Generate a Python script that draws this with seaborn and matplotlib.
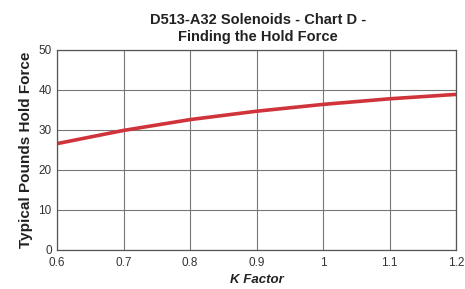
import numpy as np
import pandas as pd
import matplotlib
matplotlib.use("Agg")
import matplotlib.pyplot as plt
import seaborn as sns

# valeurs
k_factor = [0.6, 0.7, 0.8, 0.9, 1.0, 1.1, 1.2]
hold_force = [26.6, 29.9, 32.6, 34.7, 36.4, 37.8, 38.9]
x_ticks = [0.6, 0.7, 0.8, 0.9, 1.0, 1.1, 1.2]
x_labels = ["0.6", "0.7", "0.8", "0.9", "1", "1.1", "1.2"]
y_ticks = [0, 10, 20, 30, 40, 50]

df = pd.DataFrame({"k": k_factor, "force": hold_force})

sns.set_style("white")
plt.rcParams["font.family"] = ["Liberation Sans", "DejaVu Sans"]

fig = plt.figure(figsize=(4.65, 2.89), dpi=100)
ax = fig.add_axes([0.123, 0.135, 0.858, 0.692])

sns.lineplot(data=df, x="k", y="force", color="#d0343a", linewidth=2.6, ax=ax)

ax.set_xlim(0.6, 1.2)
ax.set_ylim(0, 50)
ax.set_xticks(x_ticks)
ax.set_xticklabels(x_labels, fontsize=8.5, color="#333333")
ax.set_yticks(y_ticks)
ax.set_yticklabels([str(v) for v in y_ticks], fontsize=8.5, color="#333333")
ax.tick_params(axis="x", length=2, pad=3, color="#555555")
ax.tick_params(axis="y", length=2, pad=2, color="#555555")
ax.grid(True, color="#777777", linewidth=0.8)
for s in ax.spines.values():
    s.set_color("#555555")
    s.set_linewidth(0.9)

ax.set_xlabel("K Factor", fontsize=9.5, fontweight="bold", fontstyle="italic",
              color="#222222", labelpad=4)
ax.set_ylabel("Typical Pounds Hold Force", fontsize=11, fontweight="semibold",
              color="#222222", labelpad=4)
fig.suptitle("D513-A32 Solenoids - Chart D -\nFinding the Hold Force",
             x=0.555, y=0.955, fontsize=10.5, fontweight="bold", color="#222222",
             linespacing=1.3)

fig.savefig("out.png", dpi=100)
